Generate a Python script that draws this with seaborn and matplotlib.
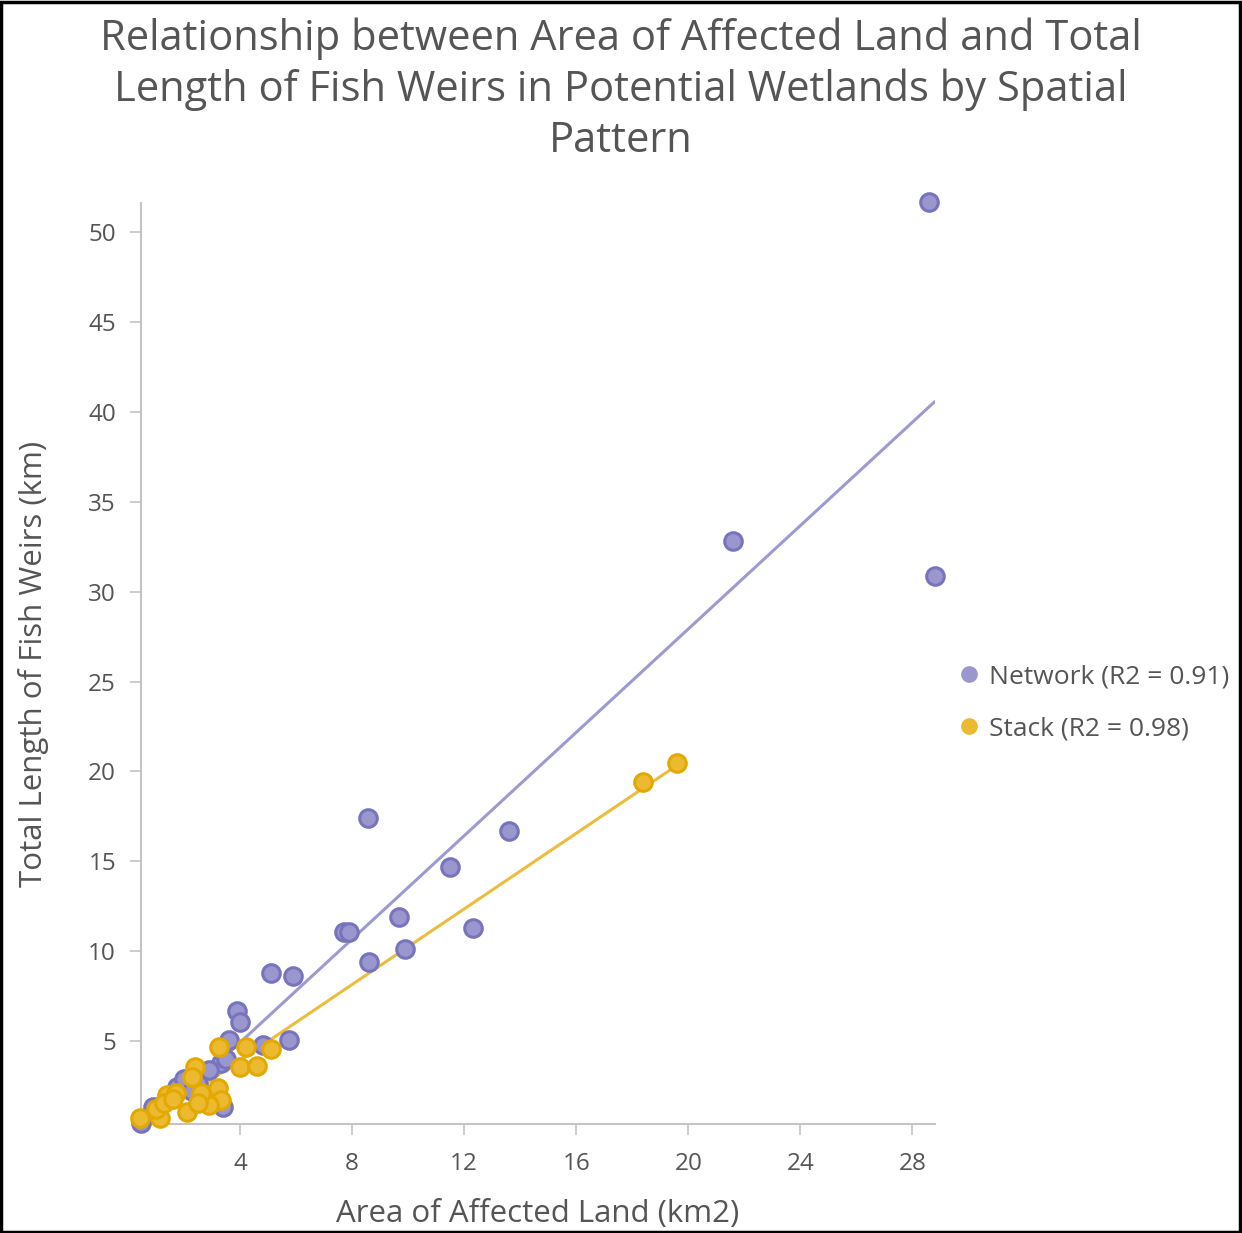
import numpy as np
import pandas as pd
import matplotlib
matplotlib.use("Agg")
import matplotlib.pyplot as plt
import seaborn as sns
from matplotlib.patches import Rectangle
from matplotlib.lines import Line2D

# ---- data ----
network_area = [28.6, 28.8, 21.6, 8.57, 13.6, 11.5, 9.68, 7.7, 7.9, 12.3, 8.6, 9.9,
                5.1, 5.9, 3.9, 4.0, 3.6, 5.75, 4.8, 3.3, 2.9, 3.5, 1.75, 2.0, 3.4,
                0.45, 0.9, 1.4, 2.5, 2.3]
network_length = [51.7, 30.9, 32.8, 17.4, 16.7, 14.7, 11.9, 11.05, 11.05, 11.3, 9.4, 10.1,
                  8.8, 8.6, 6.7, 6.05, 5.05, 5.05, 4.8, 3.8, 3.4, 4.0, 2.45, 2.9, 1.35,
                  0.45, 1.35, 1.9, 2.6, 2.2]
stack_area = [18.4, 19.6, 3.25, 4.2, 5.1, 4.0, 4.6, 2.4, 2.3, 3.2, 3.3, 2.9, 2.1,
              1.15, 0.43, 1.4, 1.7, 1.0, 1.3, 2.6, 2.5, 1.6]
stack_length = [19.4, 20.5, 4.7, 4.7, 4.55, 3.55, 3.6, 3.55, 3.0, 2.4, 1.7, 1.45, 1.05,
                0.7, 0.7, 2.0, 2.1, 1.2, 1.55, 2.1, 1.55, 1.8]
series_labels = ["Network (R2 = 0.91)", "Stack (R2 = 0.98)"]
x_ticks = [4, 8, 12, 16, 20, 24, 28]
y_ticks = [5, 10, 15, 20, 25, 30, 35, 40, 45, 50]

df = pd.DataFrame({
    "area": network_area + stack_area,
    "length": network_length + stack_length,
    "pattern": [series_labels[0]] * len(network_area) + [series_labels[1]] * len(stack_area),
})

fills = {series_labels[0]: "#9a97cf", series_labels[1]: "#ebba30"}
edges = {series_labels[0]: "#7773bd", series_labels[1]: "#e3a900"}
lines = {series_labels[0]: "#9d9ad2", series_labels[1]: "#ecbd3c"}

sns.set_theme(style="white")
plt.rcParams["font.family"] = ["Open Sans", "DejaVu Sans"]
text_c = "#555555"

fig = plt.figure(figsize=(12.42, 12.33), dpi=100)
ax = fig.add_axes([0.1135, 0.0884, 0.6395, 0.7466])

for lab in series_labels:
    sub = df[df["pattern"] == lab]
    sns.regplot(data=sub, x="area", y="length", ax=ax, scatter=False, ci=None,
                truncate=True, color=lines[lab], line_kws={"linewidth": 2.2, "zorder": 2})
for lab in series_labels:
    sub = df[df["pattern"] == lab]
    sns.scatterplot(data=sub, x="area", y="length", ax=ax, color=fills[lab],
                    edgecolor=edges[lab], linewidth=2.2, s=160, zorder=3,
                    clip_on=False, legend=False)

ax.set_xlim(0.46, 28.82)
ax.set_ylim(0.39, 51.6)
ax.set_xticks(x_ticks)
ax.set_yticks(y_ticks)
ax.tick_params(axis="both", which="both", length=8, width=1.2, color="#c4c4c4",
               labelsize=17.5, labelcolor=text_c, pad=10)
ax.tick_params(axis="x", bottom=True, pad=12)
ax.tick_params(axis="y", left=True)
for s in ["top", "right"]:
    ax.spines[s].set_visible(False)
for s in ["left", "bottom"]:
    ax.spines[s].set_color("#c4c4c4")
    ax.spines[s].set_linewidth(1.5)

ax.set_xlabel("Area of Affected Land (km2)", fontsize=22.5, color=text_c, labelpad=17)
ax.set_ylabel("Total Length of Fish Weirs (km)", fontsize=22.5, color=text_c, labelpad=28)

fig.suptitle("Relationship between Area of Affected Land and Total\n"
             "Length of Fish Weirs in Potential Wetlands by Spatial\nPattern",
             fontsize=30, color=text_c, y=0.986, linespacing=1.28)

handles = [Line2D([0], [0], marker="o", linestyle="", markersize=11,
                  markerfacecolor=fills[l], markeredgecolor=fills[l]) for l in series_labels]
leg = fig.legend(handles, series_labels, loc="center left", bbox_to_anchor=(0.771, 0.430),
                 frameon=False, fontsize=19, handletextpad=0.3, labelspacing=1.0,
                 handlelength=0.9, borderaxespad=0, borderpad=0)
for t in leg.get_texts():
    t.set_color(text_c)

fig.patches.append(Rectangle((0.001, 0.001), 0.997, 0.997, transform=fig.transFigure,
                             fill=False, edgecolor="black", linewidth=2.5))

fig.savefig("out.png", dpi=100, facecolor="white")
